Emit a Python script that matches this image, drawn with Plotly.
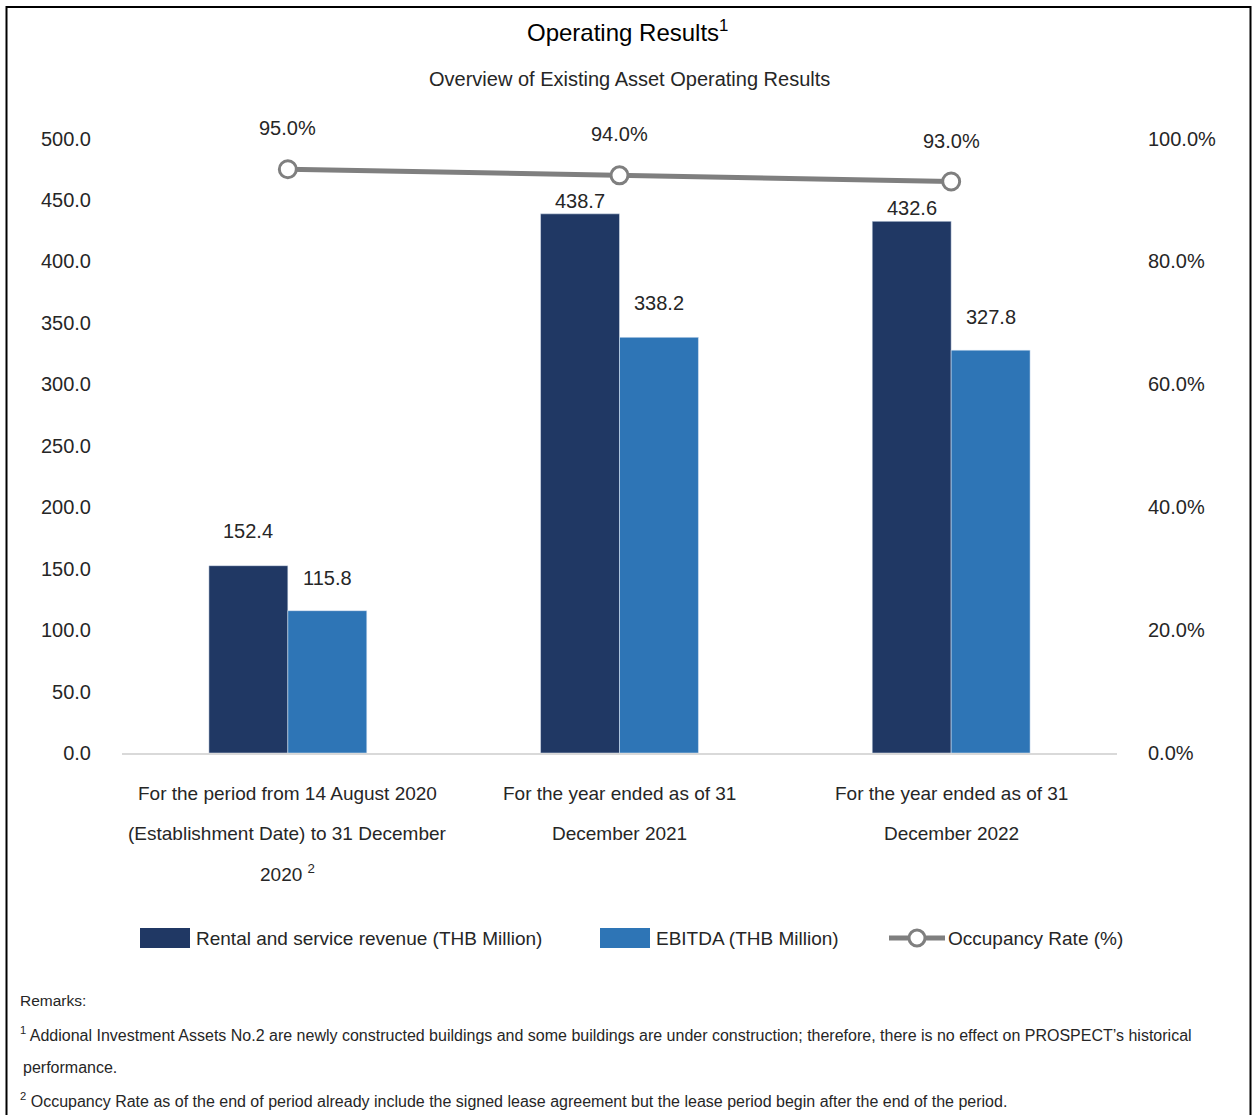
import plotly.graph_objects as go

# ---- data -------------------------------------------------------------
periods = [
    "For the period from 14 August 2020|(Establishment Date) to 31 December|2020 <sup>2</sup>",
    "For the year ended as of 31|December 2021",
    "For the year ended as of 31|December 2022",
]
revenue = [152.4, 438.7, 432.6]      # Rental and service revenue (THB Million)
ebitda = [115.8, 338.2, 327.8]       # EBITDA (THB Million)
occupancy = [0.95, 0.94, 0.93]       # Occupancy Rate

series_names = [
    "Rental and service revenue (THB Million)",
    "EBITDA (THB Million)",
    "Occupancy Rate (%)",
]

# ---- styling ----------------------------------------------------------
W, H = 1253, 1115
DARK = "#203864"
LIGHT = "#2E75B6"
GREY = "#7F7F7F"
TXT = "#262626"
FONT = "Liberation Sans, Arial, sans-serif"

def px(x):
    return x / W

def py(y):
    return 1 - y / H

x_pos = list(range(len(periods)))
BAR_W = 0.238

fig = go.Figure()
fig.add_trace(go.Bar(
    x=x_pos, y=revenue, name=series_names[0], marker_color=DARK,
    width=BAR_W, offset=-BAR_W, showlegend=False, hoverinfo="skip",
))
fig.add_trace(go.Bar(
    x=x_pos, y=ebitda, name=series_names[1], marker_color=LIGHT,
    width=BAR_W, offset=0, showlegend=False, hoverinfo="skip",
))
fig.add_trace(go.Scatter(
    x=x_pos, y=occupancy, name=series_names[2], yaxis="y2",
    mode="lines+markers",
    line=dict(color=GREY, width=5),
    marker=dict(symbol="circle", size=17, color="white",
                line=dict(color=GREY, width=3)),
    showlegend=False, hoverinfo="skip",
))

annotations = []

# value labels above the bars
rev_shift = [35, 13, 13]
ebd_shift = [33, 34, 33]
for i in x_pos:
    annotations.append(dict(
        x=i - BAR_W / 2, y=revenue[i], xref="x", yref="y",
        text=f"{revenue[i]:.1f}", showarrow=False, yshift=rev_shift[i],
        font=dict(size=20, color=TXT, family=FONT), yanchor="middle",
    ))
    annotations.append(dict(
        x=i + BAR_W / 2, y=ebitda[i], xref="x", yref="y",
        text=f"{ebitda[i]:.1f}", showarrow=False, yshift=ebd_shift[i],
        font=dict(size=20, color=TXT, family=FONT), yanchor="middle",
    ))
    annotations.append(dict(
        x=i, y=occupancy[i], xref="x", yref="y2",
        text=f"{occupancy[i] * 100:.1f}%", showarrow=False, yshift=41,
        font=dict(size=20, color=TXT, family=FONT), yanchor="middle",
    ))

# category labels, one annotation per line for wide line spacing
for i, label in enumerate(periods):
    for j, line in enumerate(label.split("|")):
        annotations.append(dict(
            x=i, y=py(793 + 40 * j), xref="x", yref="paper",
            text=line, showarrow=False, yanchor="middle",
            font=dict(size=19, color=TXT, family=FONT),
        ))

# titles
annotations.append(dict(
    x=px(627), y=py(31), xref="paper", yref="paper",
    text="Operating Results<sup>1</sup>", showarrow=False, yanchor="middle",
    font=dict(size=24, color="#000000", family=FONT),
))
annotations.append(dict(
    x=px(629), y=py(79), xref="paper", yref="paper",
    text="Overview of Existing Asset Operating Results", showarrow=False,
    yanchor="middle", font=dict(size=20, color=TXT, family=FONT),
))

# legend
shapes = []
LEG_Y = 938
legend_items = [
    (140, 194, "bar", DARK, series_names[0]),
    (600, 654, "bar", LIGHT, series_names[1]),
    (889, 946, "line", GREY, series_names[2]),
]
for x0, tx, kind, col, name in legend_items:
    if kind == "bar":
        shapes.append(dict(
            type="rect", xref="paper", yref="paper",
            x0=px(x0), x1=px(x0 + 50), y0=py(LEG_Y + 10), y1=py(LEG_Y - 10),
            fillcolor=col, line=dict(width=0),
        ))
    else:
        shapes.append(dict(
            type="line", xref="paper", yref="paper",
            x0=px(x0), x1=px(x0 + 56), y0=py(LEG_Y), y1=py(LEG_Y),
            line=dict(color=col, width=5),
        ))
        shapes.append(dict(
            type="circle", xref="paper", yref="paper",
            x0=px(x0 + 28 - 8), x1=px(x0 + 28 + 8),
            y0=py(LEG_Y + 8), y1=py(LEG_Y - 8),
            fillcolor="white", line=dict(color=col, width=3),
        ))
    annotations.append(dict(
        x=px(tx), y=py(LEG_Y), xref="paper", yref="paper", text=name,
        showarrow=False, xanchor="left", yanchor="middle",
        font=dict(size=19, color=TXT, family=FONT),
    ))

# remarks
notes = [
    (18, 1000, 15.5, "Remarks:"),
    (18, 1034, 16, "<sup>1</sup> Addional Investment Assets No.2 are newly constructed buildings and some buildings are under construction; therefore, there is no effect on PROSPECT’s historical"),
    (21, 1067, 16, "performance."),
    (18, 1100, 16, "<sup>2</sup> Occupancy Rate as of the end of period already include the signed lease agreement but the lease period begin after the end of the period."),
]
for x0, y0, fs, t in notes:
    annotations.append(dict(
        x=px(x0), y=py(y0), xref="paper", yref="paper", text=t,
        showarrow=False, xanchor="left", yanchor="middle",
        font=dict(size=fs, color=TXT, family=FONT),
    ))

# outer frame
shapes.append(dict(
    type="rect", xref="paper", yref="paper",
    x0=px(6.5), x1=px(1250.5), y0=-0.05, y1=py(7),
    line=dict(color="#000000", width=2), fillcolor="rgba(0,0,0,0)",
))

fig.update_layout(
    width=W, height=H,
    margin=dict(l=0, r=0, t=0, b=0, pad=0, autoexpand=False),
    paper_bgcolor="white", plot_bgcolor="white",
    barmode="overlay",
    font=dict(family=FONT, color=TXT),
    xaxis=dict(
        domain=[px(122), px(1117)], range=[-0.5, 2.5],
        showticklabels=False, showgrid=False, zeroline=False,
        showline=True, linecolor="#D9D9D9", linewidth=1.5, ticks="",
        automargin=False, fixedrange=True,
    ),
    yaxis=dict(
        domain=[py(753), py(138.5)], range=[0, 500], dtick=50,
        tickformat=".1f", showgrid=False, zeroline=False, showline=False,
        ticks="", ticklabelstandoff=30, automargin=False,
        tickfont=dict(size=20, color=TXT, family=FONT),
    ),
    yaxis2=dict(
        domain=[py(753), py(138.5)], range=[0, 1], dtick=0.2,
        tickformat=".1%", overlaying="y", side="right", anchor="x",
        showgrid=False, zeroline=False, showline=False,
        ticks="", ticklabelstandoff=30, automargin=False,
        tickfont=dict(size=20, color=TXT, family=FONT),
    ),
    annotations=annotations,
    shapes=shapes,
    showlegend=False,
)

fig.write_html("out.html")
